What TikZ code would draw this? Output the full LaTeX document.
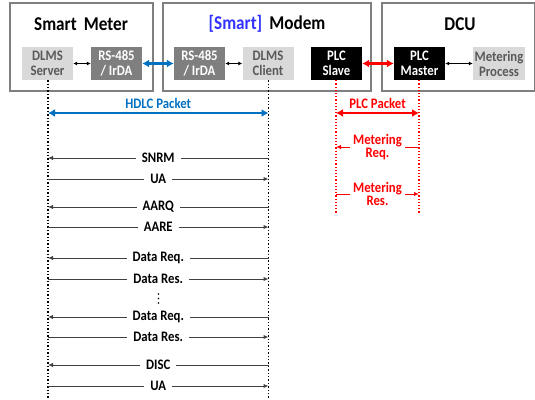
\documentclass[tikz,border=0pt]{standalone}
\usepackage{fontspec}
\setmainfont[FakeStretch=0.88]{Carlito}
\usetikzlibrary{arrows.meta}

\definecolor{boxgray}{HTML}{7F7F7F}
\definecolor{lightgray}{HTML}{D9D9D9}
\definecolor{textgray}{HTML}{595959}
\definecolor{hdlcblue}{HTML}{0070C0}
\definecolor{smartblue}{HTML}{3333FF}
\definecolor{msggray}{HTML}{404040}

\tikzset{
  unit/.style={draw=boxgray,line width=1.2pt},
  title/.style={font=\fontsize{19.5}{22}\selectfont\bfseries},
  block/.style={minimum width=51pt,minimum height=33pt,inner sep=0pt,align=center,
                font=\fontsize{14.5}{15}\selectfont\bfseries},
  lightbox/.style={block,fill=lightgray,text=textgray},
  darkbox/.style={block,fill=boxgray,text=white},
  blackbox/.style={block,fill=black,text=white},
  link/.style={{Latex[length=4pt,width=4pt]}-{Latex[length=4pt,width=4pt]},line width=0.8pt},
  buslink/.style={{Latex[length=7pt,width=8pt]}-{Latex[length=7pt,width=8pt]},line width=2.2pt},
  lifeline/.style={dotted,line width=1.4pt},
  msg/.style={-{Latex[length=5pt,width=4.5pt]},draw=msggray,line width=1pt},
  msgtext/.style={fill=white,inner xsep=6pt,inner ysep=0pt,font=\fontsize{14.5}{13}\selectfont\bfseries}
}

\begin{document}
\begin{tikzpicture}[x=1pt,y=-1pt]
    \useasboundingbox (0,0) rectangle (535,399);

    % The three units
    \draw[unit] (10,3) rectangle (153,91);
    \draw[unit] (163,3) rectangle (371,91);
    \draw[unit] (382,3) rectangle (534.4,91);
    \node[title] (meter) at (81,24) {Smart\, Meter};
    \node[title] (modem) at (267,24) {\textcolor{smartblue}{[Smart]}\, Modem};
    \node[title] (dcu) at (460,24) {DCU};

    % Place the blocks inside the units
    \node[lightbox] (srv) at (47.5,63.5) {DLMS\\Server};
    \node[darkbox] (rsm) at (116.5,63.5) {RS-485\\/ IrDA};
    \node[darkbox] (rsd) at (199.5,63.5) {RS-485\\/ IrDA};
    \node[lightbox] (cli) at (268,63.5) {DLMS\\Client};
    \node[blackbox] (slave) at (336.5,63.5) {PLC\\Slave};
    \node[blackbox] (master) at (419.5,63.5) {PLC\\Master};
    \node[lightbox,minimum width=52pt] (proc) at (499,63.5) {Metering\\Process};

    % Links between blocks
    \draw[link] (srv) -- (rsm);
    \draw[link] (rsd) -- (cli);
    \draw[link] (master) -- (proc);
    \draw[buslink,hdlcblue] (rsm) -- (rsd);
    \draw[buslink,red] (slave) -- (master);

    % Lifelines
    \coordinate (srvend) at (48,399);
    \coordinate (cliend) at (268.5,399);
    \coordinate (slaveend) at (336,213);
    \coordinate (masterend) at (419,213);
    \draw[lifeline] (srv.south -| srvend) -- (srvend);
    \draw[lifeline] (cli.south -| cliend) -- (cliend);
    \draw[lifeline,red,line width=1.2pt] (slave.south -| slaveend) -- (slaveend);
    \draw[lifeline,red,line width=1.2pt] (master.south -| masterend) -- (masterend);

    % Packet spans
    \draw[buslink,hdlcblue,line width=2pt] (srvend |- 0,113) -- node[above=0pt,font=\fontsize{14.5}{15}\selectfont\bfseries] {HDLC Packet} (cliend |- 0,113);
    \draw[buslink,red,line width=2pt] (slaveend |- 0,113) -- node[above=0pt,font=\fontsize{14.5}{15}\selectfont\bfseries] {PLC Packet} (masterend |- 0,113);

    % HDLC messages: client to server and back
    \foreach \y/\txt in {158/SNRM,207/AARQ,258/Data Req.,317/Data Req.,365/DISC}
        \draw[msg] (cliend |- 0,\y) -- node[msgtext] {\txt} (srvend |- 0,\y);
    \foreach \y/\txt in {179/UA,227/AARE,279/Data Res.,337/Data Res.,386/UA}
        \draw[msg] (srvend |- 0,\y) -- node[msgtext] {\txt} (cliend |- 0,\y);
    % the dots between the two data exchanges
    \foreach \y in {294,298.5,303}
        \fill (158.5,\y) circle (0.9pt);

    % PLC messages
    \draw[msg,red,draw=red] (masterend |- 0,147) -- node[msgtext,text=red,align=center,inner xsep=3pt] {Metering\\Req.} (slaveend |- 0,147);
    \draw[msg,red,draw=red] (slaveend |- 0,194) -- node[msgtext,text=red,align=center,inner xsep=3pt] {Metering\\Res.} (masterend |- 0,194);
\end{tikzpicture}
\end{document}
